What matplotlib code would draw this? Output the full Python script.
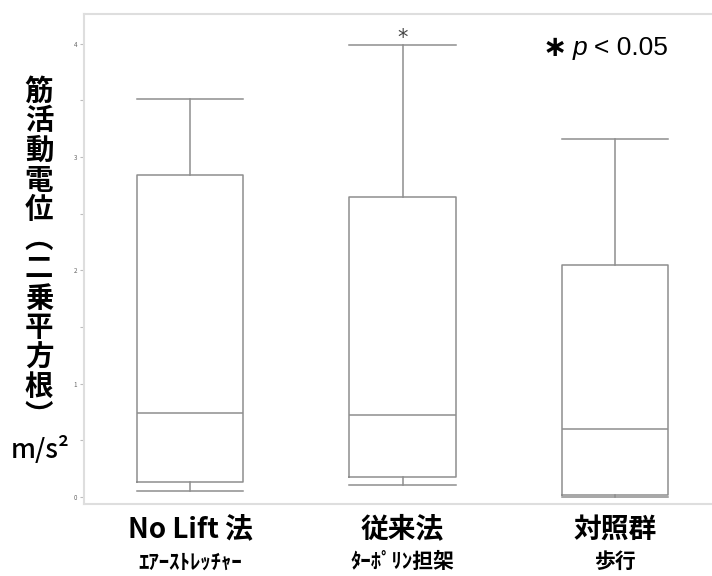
import matplotlib
matplotlib.use("Agg")
import matplotlib.pyplot as plt
import matplotlib.transforms as mtransforms

plt.rcParams['font.family'] = ['Noto Sans CJK JP', 'DejaVu Sans']

# Group labels (main line and sub line)
groups = ["No Lift 法", "従来法", "対照群"]
subgroups = ["ｴｱｰｽﾄﾚｯﾁｬｰ", "ﾀｰﾎﾟﾘﾝ担架", "歩行"]

# Box statistics per group (m/s^2)
whis_low = [0.05, 0.11, 0.00]
q1 = [0.13, 0.18, 0.02]
median = [0.74, 0.72, 0.60]
q3 = [2.84, 2.65, 2.05]
whis_high = [3.51, 3.99, 3.16]

significant = [False, True, False]

yticks = [0, 1, 2, 3, 4]
ylabel_chars = list("筋活動電位︵二乗平方根︶")
unit_label = "m/s²"

W, H = 712, 576
fig = plt.figure(figsize=(W / 100, H / 100), dpi=100)
ax = fig.add_axes([84 / W, 1 - 504 / H, (721 - 84) / W, (504 - 14) / H])

stats = []
for i, g in enumerate(groups):
    stats.append(dict(label=g, whislo=whis_low[i], q1=q1[i], med=median[i],
                      q3=q3[i], whishi=whis_high[i], fliers=[]))

line_col = "#8e8e8e"
lw = 1.1
positions = list(range(1, len(groups) + 1))
ax.bxp(stats, positions=positions, widths=0.5, capwidths=0.5, showfliers=False,
       boxprops=dict(color=line_col, linewidth=lw),
       whiskerprops=dict(color=line_col, linewidth=lw),
       capprops=dict(color=line_col, linewidth=lw),
       medianprops=dict(color=line_col, linewidth=lw))

ax.set_xlim(0.5, 3.5)
ax.set_ylim(-0.062, 4.263)

for s in ax.spines.values():
    s.set_color("#dedede")
    s.set_linewidth(1.5)

ax.set_yticks(yticks)
ax.set_yticks([v + 0.5 for v in yticks[:-1]], minor=True)
ax.tick_params(axis='y', which='both', colors="#bdbdbd", labelcolor="#666666",
               labelsize=4.5, length=3, width=0.8, pad=2)
ax.tick_params(axis='x', which='both', bottom=False, labelbottom=False)

# Significance marker above the whisker
for i, sig in enumerate(significant):
    if sig:
        ax.text(positions[i], whis_high[i] + 0.06, "*", ha='center', va='center',
                fontsize=15, color="#444444", family='DejaVu Sans')

# Group labels under the axis
trans = mtransforms.blended_transform_factory(ax.transData, ax.transAxes)
for i in range(len(groups)):
    ax.text(positions[i], -0.052, groups[i], transform=trans, ha='center', va='center',
            fontsize=20, fontweight='bold', color='black')
    ax.text(positions[i], -0.118, subgroups[i], transform=trans, ha='center', va='center',
            fontsize=15, fontweight='bold', color='black')

# Vertical axis title
for k, ch in enumerate(ylabel_chars):
    fig.text(39 / W, 1 - (92 + 29.5 * k) / H, ch, ha='center', va='center',
             fontsize=20.5, fontweight='bold', color='black')
fig.text(40 / W, 1 - 450 / H, unit_label, ha='center', va='center',
         fontsize=19, fontweight='medium', color='black')

# Significance note: "* p < 0.05"
fy = 1 - 48 / H
fig.text(555 / W, fy, "∗", ha='center', va='center', fontsize=21,
         fontweight='bold', family='DejaVu Sans', color='black')
fig.text(580 / W, fy, "p", ha='center', va='center', fontsize=19,
         style='italic', family='Liberation Sans', color='black')
fig.text(594 / W, fy, "< 0.05", ha='left', va='center', fontsize=19,
         family='Liberation Sans', color='black')

fig.savefig("out.png", dpi=100, facecolor='white')
